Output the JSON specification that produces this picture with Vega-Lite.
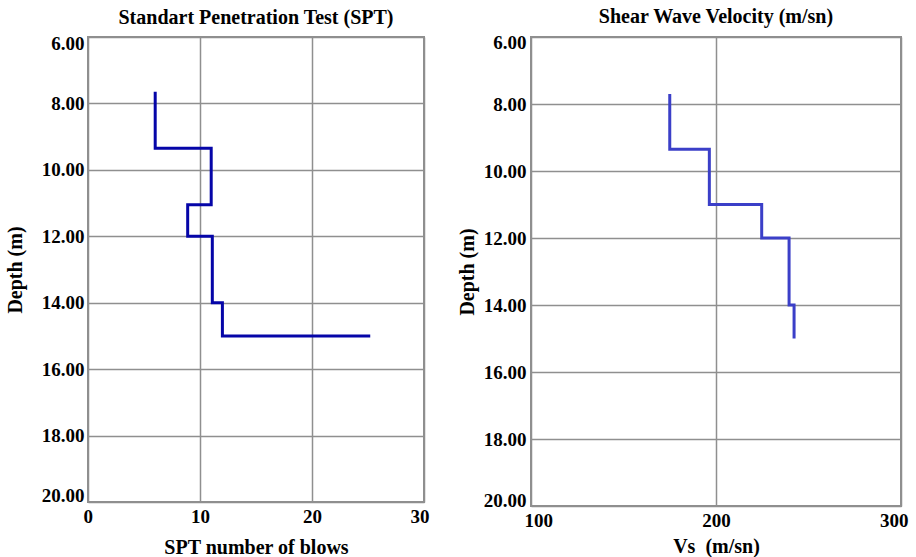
{
  "$schema": "https://vega.github.io/schema/vega-lite/v6.json",
  "background": "white",
  "padding": {"left": 4, "top": 6, "right": 5, "bottom": 0},
  "spacing": 26,
  "config": {
    "font": "Liberation Serif",
    "view": {"stroke": "#8f8f8f", "strokeWidth": 2},
    "axis": {
      "labelFont": "Liberation Serif", "labelFontWeight": "bold", "labelFontSize": 19, "labelColor": "black",
      "titleFont": "Liberation Serif", "titleFontWeight": "bold", "titleFontSize": 20, "titleColor": "black",
      "grid": true, "gridColor": "#8f8f8f", "gridWidth": 1.5, "domain": false, "ticks": false,
      "labelFlush": true, "labelFlushOffset": 5
    },
    "title": {"font": "Liberation Serif", "fontWeight": "bold", "fontSize": 20, "color": "black"}
  },
  "datasets": {
    "spt": [
      {"order": 1, "blows": 6, "depth": 7.65},
      {"order": 2, "blows": 6, "depth": 9.35},
      {"order": 3, "blows": 11, "depth": 9.35},
      {"order": 4, "blows": 11, "depth": 11.05},
      {"order": 5, "blows": 8.9, "depth": 11.05},
      {"order": 6, "blows": 8.9, "depth": 12},
      {"order": 7, "blows": 11.1, "depth": 12},
      {"order": 8, "blows": 11.1, "depth": 14},
      {"order": 9, "blows": 12, "depth": 14},
      {"order": 10, "blows": 12, "depth": 15},
      {"order": 11, "blows": 25.2, "depth": 15}
    ],
    "vs": [
      {"order": 1, "vs": 175, "depth": 7.7},
      {"order": 2, "vs": 175, "depth": 9.35},
      {"order": 3, "vs": 196.4, "depth": 9.35},
      {"order": 4, "vs": 196.4, "depth": 11},
      {"order": 5, "vs": 224.7, "depth": 11},
      {"order": 6, "vs": 224.7, "depth": 12},
      {"order": 7, "vs": 239.5, "depth": 12},
      {"order": 8, "vs": 239.5, "depth": 14},
      {"order": 9, "vs": 242.2, "depth": 14},
      {"order": 10, "vs": 242.2, "depth": 15}
    ]
  },
  "hconcat": [
    {
      "width": 336,
      "height": 465,
      "title": {"text": "Standart Penetration Test (SPT)", "offset": 6},
      "data": {"name": "spt"},
      "mark": {"type": "line", "color": "#0505a8", "strokeWidth": 3, "strokeJoin": "miter", "strokeCap": "butt"},
      "encoding": {
        "x": {"field": "blows", "type": "quantitative", "scale": {"domain": [0, 30], "nice": false, "zero": false},
              "axis": {"values": [0, 10, 20, 30], "title": "SPT number of blows", "labelPadding": 5, "titlePadding": 11}},
        "y": {"field": "depth", "type": "quantitative", "scale": {"domain": [6, 20], "reverse": true, "nice": false, "zero": false},
              "axis": {"values": [6, 8, 10, 12, 14, 16, 18, 20], "format": ".2f", "title": "Depth (m)", "labelPadding": 4, "titlePadding": 16, "labelFlushOffset": 3}},
        "order": {"field": "order", "type": "quantitative"}
      }
    },
    {
      "width": 370,
      "height": 469,
      "title": {"text": "Shear Wave Velocity (m/sn)", "offset": 6},
      "data": {"name": "vs"},
      "mark": {"type": "line", "color": "#3b3fc8", "strokeWidth": 3, "strokeJoin": "miter", "strokeCap": "butt"},
      "encoding": {
        "x": {"field": "vs", "type": "quantitative", "scale": {"domain": [100, 300], "nice": false, "zero": false},
              "axis": {"values": [100, 200, 300], "title": "Vs\u00a0 (m/sn)", "labelPadding": 5, "titlePadding": 6, "labelFlushOffset": 7}},
        "y": {"field": "depth", "type": "quantitative", "scale": {"domain": [6, 20], "reverse": true, "nice": false, "zero": false},
              "axis": {"values": [6, 8, 10, 12, 14, 16, 18, 20], "format": ".2f", "title": "Depth (m)", "labelPadding": 5, "titlePadding": 6, "labelFlushOffset": 4}},
        "order": {"field": "order", "type": "quantitative"}
      }
    }
  ]
}
